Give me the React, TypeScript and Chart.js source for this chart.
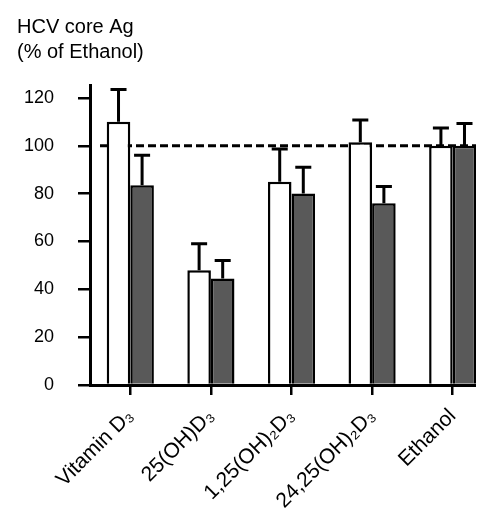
import React, { useEffect, useRef } from "react";
import { Chart, registerables } from "chart.js";

Chart.register(...registerables);

const categories = ["Vitamin D₃", "25(OH)D₃", "1,25(OH)₂D₃", "24,25(OH)₂D₃", "Ethanol"];
const openValues = [110, 48, 85, 101.5, 100];
const openErrors = [13.5, 11, 13.7, 9.3, 7.4];
const filledValues = [83.5, 44.5, 80, 76, 100];
const filledErrors = [12.5, 7.5, 11, 7, 9.3];
const yTicks = [0, 20, 40, 60, 80, 100, 120];
const referenceValue = 100;
const titleLines = ["HCV core Ag", "(% of Ethanol)"];

const FONT = "'Liberation Sans', Arial, sans-serif";

const refLinePlugin = {
  id: "refLine",
  beforeDatasetsDraw(chart: any) {
    const { ctx, chartArea, scales } = chart;
    const y = scales.y.getPixelForValue(referenceValue);
    ctx.save();
    ctx.strokeStyle = "#000";
    ctx.lineWidth = 3;
    ctx.setLineDash([8, 4]);
    ctx.beginPath();
    ctx.moveTo(chartArea.left + 10, y);
    ctx.lineTo(chartArea.right, y);
    ctx.stroke();
    ctx.restore();
  },
};

const errorBarPlugin = {
  id: "errorBars",
  afterDatasetsDraw(chart: any) {
    const { ctx, scales } = chart;
    const errs = [openErrors, filledErrors];
    chart.data.datasets.forEach((ds: any, di: number) => {
      const meta = chart.getDatasetMeta(di);
      meta.data.forEach((el: any, i: number) => {
        const v = ds.data[i];
        const top = scales.y.getPixelForValue(v + errs[di][i]);
        const half = el.width * 0.34;
        ctx.save();
        ctx.strokeStyle = "#000";
        ctx.lineWidth = 3;
        ctx.beginPath();
        ctx.moveTo(el.x, el.y);
        ctx.lineTo(el.x, top);
        ctx.moveTo(el.x - half, top);
        ctx.lineTo(el.x + half, top);
        ctx.stroke();
        ctx.restore();
      });
    });
  },
};

export default function App() {
  const ref = useRef<HTMLCanvasElement | null>(null);
  useEffect(() => {
    if (!ref.current) return;
    const chart = new Chart(ref.current, {
      type: "bar",
      data: {
        labels: categories,
        datasets: [
          {
            data: openValues,
            backgroundColor: "#ffffff",
            borderColor: "#000000",
            borderWidth: 2.5,
            categoryPercentage: 0.585,
            barPercentage: 1,
          },
          {
            data: filledValues,
            backgroundColor: "#595959",
            borderColor: "#000000",
            borderWidth: 2.5,
            categoryPercentage: 0.585,
            barPercentage: 1,
          },
        ],
      },
      options: {
        animation: false,
        responsive: false,
        maintainAspectRatio: false,
        layout: { padding: { left: 9, right: 5, top: 0, bottom: 0 } },
        plugins: {
          legend: { display: false },
          tooltip: { enabled: false },
          title: {
            display: true,
            text: titleLines,
            align: "start",
            color: "#000",
            font: { family: FONT, size: 20, weight: "normal", lineHeight: 1.25 },
            padding: { top: 7, bottom: 20 },
          },
        },
        scales: {
          x: {
            offset: true,
            grid: {
              display: true,
              offset: false,
              drawOnChartArea: false,
              drawTicks: true,
              tickLength: 10,
              color: "#000",
              lineWidth: 2.5,
            },
            border: { display: true, color: "#000", width: 3 },
            ticks: {
              color: "#000",
              font: { family: FONT, size: 21 },
              maxRotation: 45,
              minRotation: 45,
              autoSkip: false,
              padding: 9,
            },
            afterFit: (scale: any) => {
              scale.height = 127;
            },
          },
          y: {
            min: 0,
            max: 125.4,
            afterBuildTicks: (scale: any) => {
              scale.ticks = yTicks.map((v) => ({ value: v }));
            },
            grid: {
              display: true,
              drawOnChartArea: false,
              drawTicks: true,
              tickLength: 12,
              color: "#000",
              lineWidth: 2.5,
            },
            border: { display: true, color: "#000", width: 3 },
            ticks: {
              color: "#000",
              font: { family: FONT, size: 18 },
              padding: 24,
            },
            afterFit: (scale: any) => {
              scale.width = 73;
            },
          },
        },
      },
      plugins: [refLinePlugin, errorBarPlugin],
    } as any);
    return () => chart.destroy();
  }, []);
  return (
    <div style={{ width: 476, height: 504, overflow: "hidden" }}>
      <canvas ref={ref} width={490} height={504} style={{ width: 490, height: 504, display: "block" }} />
    </div>
  );
}
